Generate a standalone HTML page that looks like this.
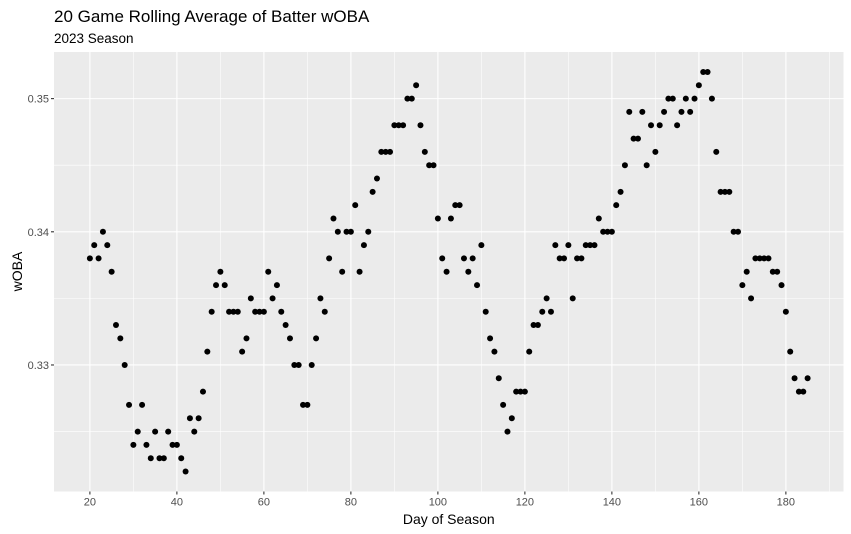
<!DOCTYPE html>
<html><head><meta charset="utf-8"><style>
html,body{margin:0;padding:0;background:#fff;}
svg{display:block;font-family:"Liberation Sans",sans-serif;}
</style></head><body>
<svg id="chart" width="851" height="534" xmlns="http://www.w3.org/2000/svg">
<text x="54" y="22" font-size="17" fill="#000">20 Game Rolling Average of Batter wOBA</text>
<text x="54" y="43" font-size="13.5" fill="#000">2023 Season</text>
<rect x="54" y="52" width="789.5" height="439.5" fill="#ebebeb"/>
<g id="grid"></g>
<g id="pts"></g>
<g id="axes"></g>
<text x="448.75" y="524" font-size="14" text-anchor="middle">Day of Season</text>
<text transform="translate(22,271.5) rotate(-90)" font-size="14" text-anchor="middle">wOBA</text>
</svg>
<script>
const days = [];
for (let d = 20; d <= 185; d++) days.push(d);
const woba = [0.338,0.339,0.338,0.340,0.339,0.337,0.333,0.332,0.330,0.327,
0.324,0.325,0.327,0.324,0.323,0.325,0.323,0.323,0.325,0.324,
0.324,0.323,0.322,0.326,0.325,0.326,0.328,0.331,0.334,0.336,
0.337,0.336,0.334,0.334,0.334,0.331,0.332,0.335,0.334,0.334,
0.334,0.337,0.335,0.336,0.334,0.333,0.332,0.330,0.330,0.327,
0.327,0.330,0.332,0.335,0.334,0.338,0.341,0.340,0.337,0.340,
0.340,0.342,0.337,0.339,0.340,0.343,0.344,0.346,0.346,0.346,
0.348,0.348,0.348,0.350,0.350,0.351,0.348,0.346,0.345,0.345,
0.341,0.338,0.337,0.341,0.342,0.342,0.338,0.337,0.338,0.336,
0.339,0.334,0.332,0.331,0.329,0.327,0.325,0.326,0.328,0.328,
0.328,0.331,0.333,0.333,0.334,0.335,0.334,0.339,0.338,0.338,
0.339,0.335,0.338,0.338,0.339,0.339,0.339,0.341,0.340,0.340,
0.340,0.342,0.343,0.345,0.349,0.347,0.347,0.349,0.345,0.348,
0.346,0.348,0.349,0.350,0.350,0.348,0.349,0.350,0.349,0.350,
0.351,0.352,0.352,0.350,0.346,0.343,0.343,0.343,0.340,0.340,
0.336,0.337,0.335,0.338,0.338,0.338,0.338,0.337,0.337,0.336,
0.334,0.331,0.329,0.328,0.328,0.329];
const xTicks = [20,40,60,80,100,120,140,160,180];
const xMinor = [30,50,70,90,110,130,150,170,190];
const yTicks = [0.33,0.34,0.35];
const yTickLabels = ["0.33","0.34","0.35"];
const yMinor = [0.325,0.335,0.345];

const L=54,R=843.5,T=52,B=491.5;
const xmin=Math.min(...days),xmax=Math.max(...days),xpad=(xmax-xmin)*0.05;
const ymin=Math.min(...woba),ymax=Math.max(...woba),ypad=(ymax-ymin)*0.05;
const sx=v=>L+(v-(xmin-xpad))/((xmax+xpad)-(xmin-xpad))*(R-L);
const sy=v=>B-(v-(ymin-ypad))/((ymax+ypad)-(ymin-ypad))*(B-T);
const NS="http://www.w3.org/2000/svg";
function mk(tag,attrs,parent){const e=document.createElementNS(NS,tag);for(const k in attrs)e.setAttribute(k,attrs[k]);parent.appendChild(e);return e;}
const grid=document.getElementById('grid'),pts=document.getElementById('pts'),axes=document.getElementById('axes');
xMinor.forEach(v=>{const x=sx(v);if(x<R){const l=mk('line',{x1:x,x2:x,y1:T,y2:B,stroke:'#fff','stroke-width':0.55},grid);

}});
yMinor.forEach(v=>{const y=sy(v);const l=mk('line',{x1:L,x2:R,y1:y,y2:y,stroke:'#fff','stroke-width':0.55},grid);

});
xTicks.forEach(v=>{const x=sx(v);const l=mk('line',{x1:x,x2:x,y1:T,y2:B,stroke:'#fff','stroke-width':1.1},grid);


const t=mk('line',{x1:x,x2:x,y1:B,y2:B+3,stroke:'#333','stroke-width':1.1},axes);


const tx=mk('text',{x:x,y:B+14,'font-size':11,fill:'#4d4d4d','text-anchor':'middle'},axes);tx.textContent=v;

});
yTicks.forEach((v,i)=>{const y=sy(v);const l=mk('line',{x1:L,x2:R,y1:y,y2:y,stroke:'#fff','stroke-width':1.1},grid);


const t=mk('line',{x1:L-3,x2:L,y1:y,y2:y,stroke:'#333','stroke-width':1.1},axes);


const tx=mk('text',{x:L-5,y:y+4,'font-size':11,fill:'#4d4d4d','text-anchor':'end'},axes);tx.textContent=yTickLabels[i];

});
days.forEach((d,i)=>{const c=mk('circle',{cx:sx(d),cy:sy(woba[i]),r:3,fill:'#000'},pts);

});
</script>
</body></html>
